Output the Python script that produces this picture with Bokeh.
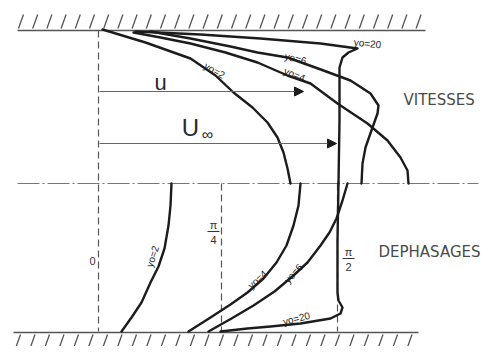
import numpy as np
from bokeh.plotting import figure
from bokeh.models import Range1d, Arrow, NormalHead
from bokeh.core.properties import value
from bokeh.embed import file_html
from bokeh.resources import INLINE

# ---- data (in picture coordinates) ----
# velocity profiles (upper half)
vel_y2_x = [102, 145, 190, 215, 233, 252, 267, 277, 283, 287, 290]
vel_y2_y = [29, 42, 58, 75, 92, 107, 122, 137, 152, 168, 183]
vel_y4_x = [133, 160, 190, 225, 257, 287, 310, 337, 367, 387, 400, 407, 408]
vel_y4_y = [32, 37, 43, 52, 62, 75, 83, 103, 123, 140, 157, 170, 183]
vel_y6_x = [150, 190, 230, 257, 287, 323, 350, 370, 378, 377, 372, 365, 362, 361]
vel_y6_y = [31, 38, 46, 52, 57, 70, 80, 93, 105, 113, 127, 147, 163, 183]
vel_y20_x = [135, 200, 260, 320, 357, 348, 342, 339, 339, 338]
vel_y20_y = [31, 34, 38, 43, 48, 52, 57, 67, 120, 183]

# phase profiles (lower half)
ph_y2_x = [171, 170, 168, 164, 158, 150, 141, 131, 121]
ph_y2_y = [183, 205, 225, 248, 266, 282, 302, 317, 331]
ph_y4_x = [300, 298, 293, 286, 276, 263, 247, 230, 210, 188]
ph_y4_y = [183, 205, 225, 245, 262, 278, 292, 304, 317, 331]
ph_y6_x = [347, 342, 336, 329, 320, 307, 293, 274, 253, 231, 208]
ph_y6_y = [183, 200, 218, 232, 245, 262, 275, 291, 305, 318, 331]
ph_y20_x = [338, 337, 337, 338, 342, 340, 330, 300, 270, 247, 220]
ph_y20_y = [183, 240, 292, 300, 307, 313, 318, 323, 326, 328, 331]

curve_labels = ["yo=2", "yo=4", "yo=6", "yo=20"]
phase_ticks = ["0", "π", "4", "π", "2"]

# ---- figure ----
W, H = 484, 346
p = figure(width=W, height=H, x_range=Range1d(0, W), y_range=Range1d(H, 0),
           output_backend="svg", toolbar_location=None,
           x_axis_type=None, y_axis_type=None, min_border=0)
p.grid.visible = False
p.outline_line_color = None
p.background_fill_color = "white"

ink = "#1c1c1c"
grey = "#555555"
font = value("DejaVu Sans")

# walls
p.line([17, 425], [30, 30], line_color=grey, line_width=1.5)
p.line([13, 418], [332, 332], line_color=grey, line_width=1.5)
top_h = np.arange(18, 420, 14.2)
p.segment(x0=top_h, y0=[28] * len(top_h), x1=top_h + 5, y1=[14] * len(top_h),
          line_color=grey, line_width=1.3)
bot_h = np.arange(20, 412, 14.5)
p.segment(x0=bot_h - 5, y0=[348] * len(bot_h), x1=bot_h, y1=[334] * len(bot_h),
          line_color=grey, line_width=1.3)

# reference lines
p.line([17, 478], [183, 183], line_color="#777777", line_width=1.2, line_dash="22 3 2 3")
p.line([98, 98], [30, 331], line_color=grey, line_width=1.2, line_dash="7 4")
p.line([221, 221], [183, 331], line_color=grey, line_width=1.2, line_dash="7 4")
p.line([337, 337], [183, 331], line_color=grey, line_width=1.2, line_dash="7 4")

# arrows
for (x0, x1, y) in [(99, 303, 91), (99, 336, 143)]:
    p.add_layout(Arrow(end=NormalHead(size=9, fill_color=ink, line_color=ink),
                       x_start=x0, y_start=y, x_end=x1, y_end=y,
                       line_color="#666666", line_width=1.2))

# curves
for xs, ys in [(vel_y2_x, vel_y2_y), (vel_y4_x, vel_y4_y), (vel_y6_x, vel_y6_y),
               (vel_y20_x, vel_y20_y), (ph_y2_x, ph_y2_y), (ph_y4_x, ph_y4_y),
               (ph_y6_x, ph_y6_y), (ph_y20_x, ph_y20_y)]:
    p.line(xs, ys, line_color=ink, line_width=2.4, line_join="round", line_cap="round")

# curve labels
lab_kw = dict(text_font_size="10px", text_color=ink, text_align="center",
              text_baseline="middle", angle_units="deg")
p.text(x=[214, 294, 295, 367], y=[70, 74, 58, 43], text=curve_labels,
       angle=[-30, -22, -14, -6], **lab_kw)
p.text(x=[152, 257, 293, 296], y=[256, 279, 273, 318], text=curve_labels,
       angle=[72, 42, 48, 14], **lab_kw)

# letters
p.text(x=[160], y=[82], text=["u"], text_font_size="22px", text_color="#2a2a2a",
       text_align="center", text_baseline="middle")
p.text(x=[190], y=[127], text=["U"], text_font_size="24px", text_color="#2a2a2a",
       text_align="center", text_baseline="middle")
p.text(x=[207], y=[134], text=["∞"], text_font_size="16px", text_color="#2a2a2a",
       text_align="center", text_baseline="middle")
p.text(x=[403], y=[99], text=["VITESSES"], text_font_size="15px", text_color="#4a4a4a",
       text_font=font, text_align="left", text_baseline="middle")
p.text(x=[378], y=[251], text=["DEPHASAGES"], text_font_size="15px", text_color="#4a4a4a",
       text_font=font, text_align="left", text_baseline="middle")

# phase tick labels
tick_kw = dict(text_font_size="11px", text_color="#333333", text_align="center",
               text_baseline="middle")
p.text(x=[92, 213, 213, 348, 348], y=[260, 224, 239, 251, 266], text=phase_ticks, **tick_kw)
p.segment(x0=[207, 342], y0=[231, 258], x1=[219, 354], y1=[231, 258],
          line_color="#333333", line_width=1)

open("out.html", "w").write(file_html(p, INLINE))
